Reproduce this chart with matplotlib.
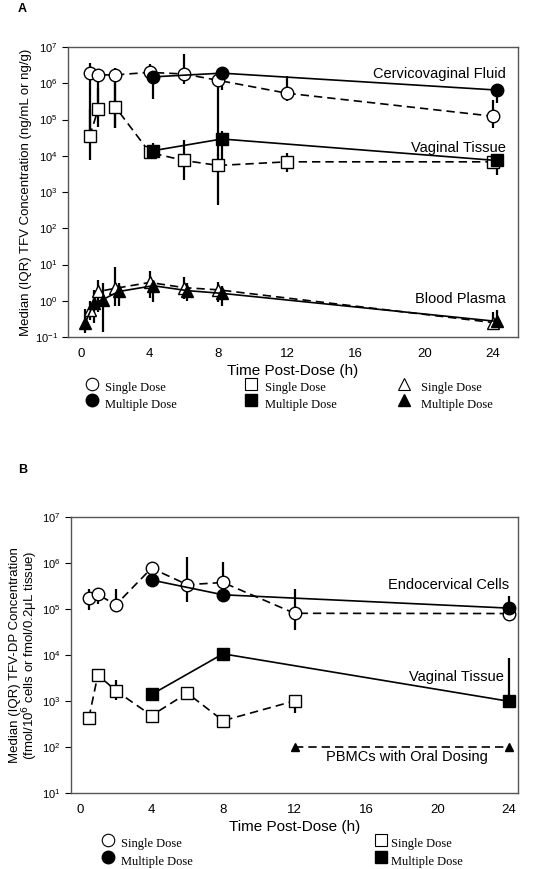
import numpy as np
import matplotlib.pyplot as plt

# ---- panel A data (TFV) ----
cvf_single_t = [0.5, 1, 2, 4, 6, 8, 12, 24]
cvf_single = [1.95e6, 1.7e6, 1.7e6, 2.0e6, 1.8e6, 1.2e6, 5.3e5, 1.23e5]
cvf_single_lo = [5e4, 3e5, 6e4, 1.2e6, 9.5e5, 1e4, 3.3e5, 6e4]
cvf_single_hi = [3.7e6, 2.2e6, 2.6e6, 3.4e6, 6.4e6, 1.5e6, 1.6e6, 3.5e5]

cvf_multi_t = [4.2, 8.2, 24.2]
cvf_multi = [1.5e6, 1.9e6, 6.5e5]
cvf_multi_lo = [3.6e5, 6.5e5, 2.8e5]
cvf_multi_hi = [1.9e6, 2.2e6, 9e5]

vt_single_t = [0.5, 1, 2, 4, 6, 8, 12, 24]
vt_single = [3.4e4, 1.95e5, 2.2e5, 1.23e4, 7.4e3, 5.4e3, 6.8e3, 6.8e3]
vt_single_lo = [7.8e3, 6.3e4, 5.7e4, 8.7e3, 2.2e3, 450, 3.6e3, 5e3]
vt_single_hi = [2e5, 7.4e5, 1e6, 2e4, 2.8e4, 1.1e4, 1.2e4, 9e3]

vt_multi_t = [4.2, 8.2, 24.2]
vt_multi = [1.38e4, 2.9e4, 7.4e3]
vt_multi_lo = [8.5e3, 8e3, 3e3]
vt_multi_hi = [2.2e4, 4.9e4, 1.05e4]

bp_single_t = [0.5, 1, 2, 4, 6, 8, 24]
bp_single = [0.55, 1.8, 2.2, 3.2, 2.3, 2.0, 0.25]
bp_single_lo = [0.3, 0.5, 0.7, 1.2, 1.1, 0.9, 0.2]
bp_single_hi = [1.0, 3.8, 8.3, 6.5, 4.6, 3.2, 0.5]

bp_multi_t = [0.25, 0.75, 1.25, 2.2, 4.2, 6.2, 8.2, 24.2]
bp_multi = [0.25, 0.87, 1.07, 1.8, 2.6, 1.9, 1.6, 0.27]
bp_multi_lo = [0.13, 0.25, 0.14, 0.7, 0.9, 1.0, 0.7, 0.18]
bp_multi_hi = [0.6, 2.0, 3.0, 3.0, 3.5, 3.0, 2.5, 0.55]

# ---- panel B data (TFV-DP) ----
ec_single_t = [0.5, 1, 2, 4, 6, 8, 12, 24]
ec_single = [1.74e5, 2.1e5, 1.23e5, 7.8e5, 3.4e5, 3.8e5, 8.1e4, 8e4]
ec_single_lo = [9.5e4, 1.3e5, 1.1e5, 4.8e5, 1.4e5, 1.6e5, 3.5e4, 7e4]
ec_single_hi = [2.7e5, 2.4e5, 2.7e5, 1e6, 1.35e6, 1.07e6, 2.8e5, 9e4]

ec_multi_t = [4, 8, 24]
ec_multi = [4.3e5, 2.05e5, 1.05e5]
ec_multi_lo = [3.5e5, 1.7e5, 9e4]
ec_multi_hi = [5.5e5, 2.5e5, 1.9e5]

vtb_single_t = [0.5, 1, 2, 4, 6, 8, 12]
vtb_single = [430, 3.7e3, 1.67e3, 480, 1.48e3, 370, 1.0e3]
vtb_single_lo = [300, 3.2e3, 1.07e3, 420, 1.3e3, 330, 550]
vtb_single_hi = [500, 4.2e3, 2.8e3, 560, 1.7e3, 420, 1.2e3]

vtb_multi_t = [4, 8, 24]
vtb_multi = [1.38e3, 1.06e4, 980]
vtb_multi_lo = [1.2e3, 9e3, 900]
vtb_multi_hi = [1.6e3, 1.25e4, 8.7e3]

pbmc_t = [12, 24]
pbmc = [100, 100]

xticks = [0, 4, 8, 12, 16, 20, 24]

plt.rcParams["font.family"] = ["Liberation Sans", "DejaVu Sans"]
fig = plt.figure(figsize=(5.35, 8.69), dpi=100)


def series(ax, t, y, lo, hi, marker, filled, ms=9, dashed=None):
    y = np.array(y)
    if lo is not None:
        err = [y - np.array(lo), np.array(hi) - y]
        ax.errorbar(t, y, yerr=err, fmt="none", ecolor="black", elinewidth=1.6,
                    capsize=0, zorder=2)
    if dashed is None:
        dashed = not filled
    ax.plot(t, y, color="black", lw=1.2, ls=(0, (5, 3)) if dashed else "-",
            marker=marker, ms=ms, mec="black", mew=1.0,
            mfc="black" if filled else "white", zorder=4 if filled else 3)


def style(ax, xlim, ylim):
    ax.set_yscale("log")
    ax.set_xlim(*xlim)
    ax.set_ylim(*ylim)
    ax.set_xticks(xticks)
    ax.tick_params(axis="x", length=0, labelsize=9.5, pad=8)
    ax.tick_params(axis="y", which="major", length=4, direction="out", labelsize=8)
    ax.tick_params(axis="y", which="minor", length=0)
    ax.set_xlabel("Time Post-Dose (h)", fontsize=11, labelpad=3)
    for s in ax.spines.values():
        s.set_color("#555555")
        s.set_linewidth(1.0)


# ---------- panel A ----------
axA = fig.add_axes([68 / 535, 1 - 337 / 869, 450 / 535, 290 / 869])
series(axA, cvf_single_t, cvf_single, cvf_single_lo, cvf_single_hi, "o", False)
series(axA, vt_single_t, vt_single, vt_single_lo, vt_single_hi, "s", False)
series(axA, bp_single_t, bp_single, bp_single_lo, bp_single_hi, "^", False)
series(axA, cvf_multi_t, cvf_multi, cvf_multi_lo, cvf_multi_hi, "o", True)
series(axA, vt_multi_t, vt_multi, vt_multi_lo, vt_multi_hi, "s", True)
series(axA, bp_multi_t, bp_multi, bp_multi_lo, bp_multi_hi, "^", True)
style(axA, (-0.76, 25.45), (1e-1, 1e7))
axA.set_yticks([10.0 ** k for k in range(-1, 8)])
axA.set_ylabel("Median (IQR) TFV Concentration (ng/mL or ng/g)", fontsize=9.5, labelpad=2)
axA.text(24.75, 1.8e6, "Cervicovaginal Fluid", ha="right", va="center", fontsize=10.5)
axA.text(24.75, 1.6e4, "Vaginal Tissue", ha="right", va="center", fontsize=10.5)
axA.text(24.75, 1.1, "Blood Plasma", ha="right", va="center", fontsize=10.5)

# ---------- panel B ----------
axB = fig.add_axes([70.7 / 535, 1 - 792.7 / 869, 447.3 / 535, 275.4 / 869])
series(axB, ec_single_t, ec_single, ec_single_lo, ec_single_hi, "o", False)
series(axB, vtb_single_t, vtb_single, vtb_single_lo, vtb_single_hi, "s", False)
series(axB, ec_multi_t, ec_multi, ec_multi_lo, ec_multi_hi, "o", True)
series(axB, vtb_multi_t, vtb_multi, vtb_multi_lo, vtb_multi_hi, "s", True)
series(axB, pbmc_t, pbmc, None, None, "^", True, ms=6, dashed=True)
style(axB, (-0.52, 24.5), (1e1, 1e7))
axB.set_yticks([10.0 ** k for k in range(1, 8)])
axB.set_ylabel("Median (IQR) TFV-DP Concentration\n(fmol/10$^6$ cells or fmol/0.2\u03bcL tissue)",
               fontsize=9.5, labelpad=1, linespacing=1.0)
axB.text(24, 3.3e5, "Endocervical Cells", ha="right", va="center", fontsize=10.5)
axB.text(23.7, 3.4e3, "Vaginal Tissue", ha="right", va="center", fontsize=10.5)
axB.text(18.3, 60, "PBMCs with Oral Dosing", ha="center", va="center", fontsize=10.5)

# ---------- panel letters ----------
fig.text(18 / 535, 1 - 9 / 869, "A", fontsize=9, fontweight="bold", va="center")
fig.text(18 / 535, 1 - 470 / 869, "B", fontsize=9, fontweight="bold", va="center")


# ---------- legends (drawn as figure text + markers) ----------
def legend_pair(x, y1, y2, marker, tx):
    fig.lines.append(plt.Line2D([x / 535], [1 - y1 / 869], marker=marker, ms=9,
                                mfc="white", mec="black", mew=0.8, ls="none",
                                transform=fig.transFigure))
    fig.lines.append(plt.Line2D([x / 535], [1 - y2 / 869], marker=marker, ms=9,
                                mfc="black", mec="black", ls="none",
                                transform=fig.transFigure))
    fig.text(tx / 535, 1 - (y1 + 4) / 869, "Single Dose", fontsize=9,
             family="Liberation Serif", va="center")
    fig.text(tx / 535, 1 - (y2 + 5) / 869, "Multiple Dose", fontsize=9,
             family="Liberation Serif", va="center")


legend_pair(92, 384, 400, "o", 105)
legend_pair(251, 384, 400, "s", 265)
legend_pair(404, 384, 400, "^", 421)
legend_pair(108, 840, 857, "o", 121)
legend_pair(381, 840, 857, "s", 391)

fig.savefig("out.png", dpi=100)
